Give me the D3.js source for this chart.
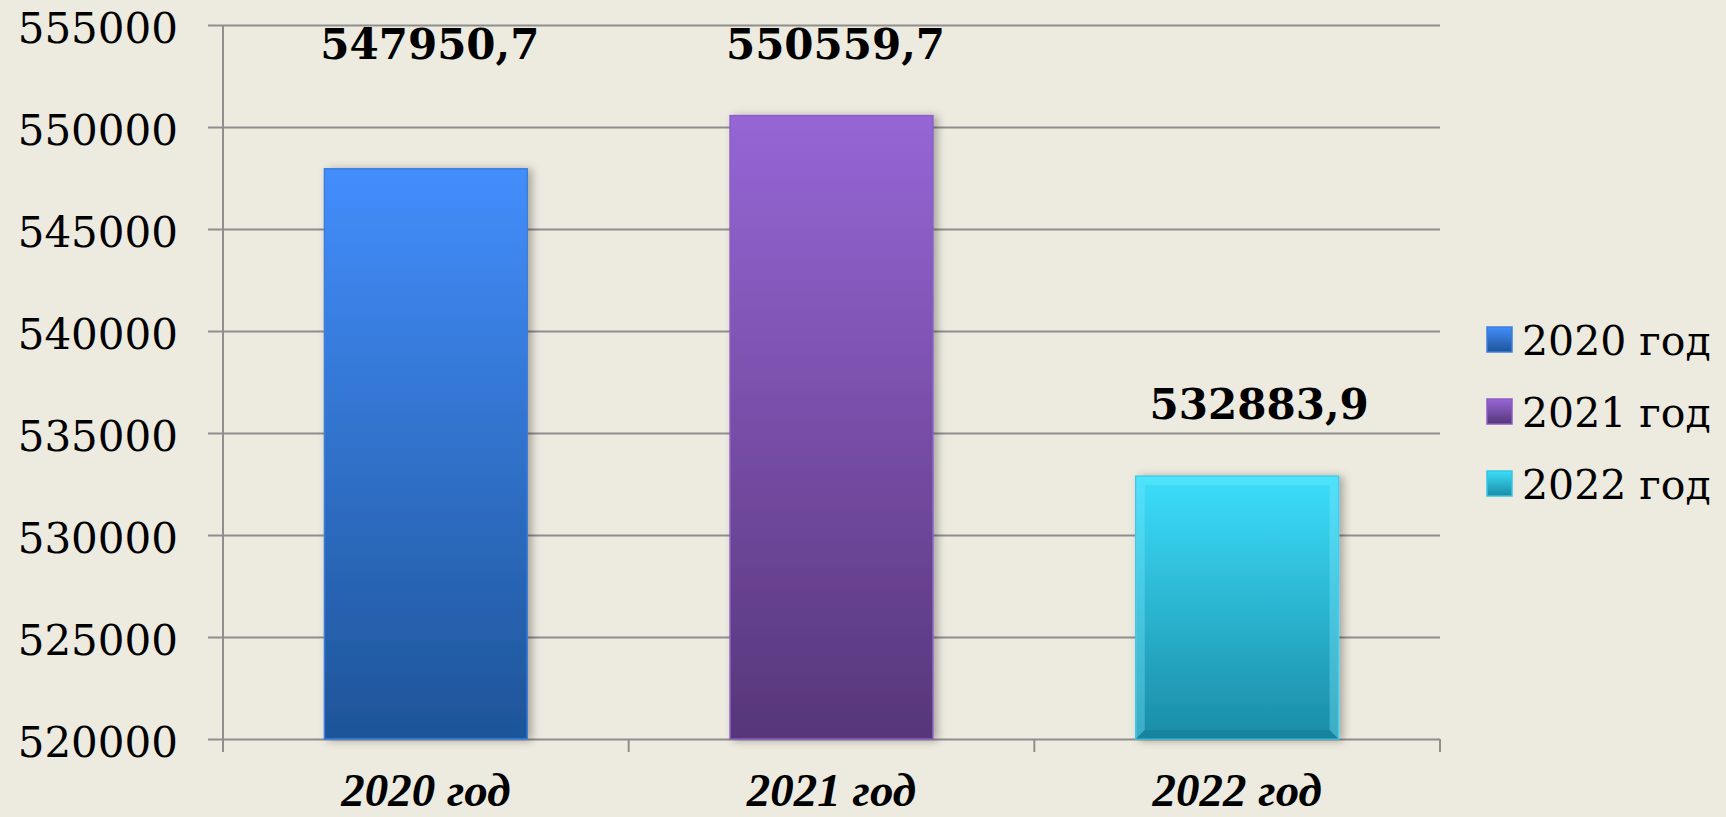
<!DOCTYPE html>
<html>
<head>
<meta charset="utf-8">
<script src="https://cdn.jsdelivr.net/npm/d3@7"></script>
<style>
  body { margin: 0; background: #EDEBE0; }
  svg { display: block; }
</style>
</head>
<body>
<div id="chart-area"></div>
<script>
// data
var categories = ["2020 год", "2021 год", "2022 год"];
var values = [547950.7, 550559.7, 532883.9];
var yTicks = [520000, 525000, 530000, 535000, 540000, 545000, 550000, 555000];

var margin = { left: 223, right: 286, top: 25, bottom: 78 };
var width = 1726 - margin.left - margin.right;
var height = 817 - margin.top - margin.bottom;

var svg = d3.select("#chart-area")
  .append("svg")
    .attr("width", 1726)
    .attr("height", 817);

var g = svg.append("g")
  .attr("transform", "translate(" + margin.left + ", " + margin.top + ")");

// Scales
var x = d3.scaleBand()
  .domain(categories)
  .range([0, width])
  .paddingInner(0.5)
  .paddingOuter(0.25);
var y = d3.scaleLinear()
  .domain([520000, 555000])
  .range([height, 0]);

// bar colours, top and bottom of gradient
var topColor = d3.scaleOrdinal(categories, ["#438EFC", "#9666D6", "#3CDEFB"]);
var bottomColor = d3.scaleOrdinal(categories, ["#1E5498", "#573679", "#1B8CA6"]);
var edgeColor = d3.scaleOrdinal(categories, ["#3B7FDE", "#8A5CC4", "#35C6E6"]);

var fmt = d3.formatLocale({ decimal: ",", thousands: "", grouping: [3] }).format(".1f");

var defs = svg.append("defs");
categories.forEach(function(c, i) {
  var grad = defs.append("linearGradient")
    .attr("id", "grad" + i)
    .attr("x1", 0).attr("y1", 0).attr("x2", 0).attr("y2", 1);
  grad.append("stop").attr("offset", "0%").attr("stop-color", topColor(c));
  grad.append("stop").attr("offset", "100%").attr("stop-color", bottomColor(c));
});
var shadow = defs.append("filter").attr("id", "shadow")
  .attr("x", "-10%").attr("y", "-10%").attr("width", "130%").attr("height", "120%");
shadow.append("feDropShadow")
  .attr("dx", 4).attr("dy", 1).attr("stdDeviation", 4)
  .attr("flood-color", "#000").attr("flood-opacity", 0.3);

// Y axis + gridlines
var yAxis = d3.axisLeft(y).tickValues(yTicks).tickFormat(d3.format("d"));
var yAxisGroup = g.append("g").attr("class", "y-axis").call(yAxis);
yAxisGroup.select(".domain").remove();
yAxisGroup.selectAll(".tick line")
  .attr("x1", -15).attr("x2", width)
  .attr("stroke", "#8E8E8E").attr("stroke-width", 2);
yAxisGroup.selectAll(".tick text")
  .attr("x", -45).attr("dy", 17)
  .attr("font-family", "DejaVu Serif").attr("font-size", "42px")
  .attr("fill", "#000");

// vertical axis line
g.append("line")
  .attr("x1", 0).attr("x2", 0)
  .attr("y1", 0).attr("y2", height + 13)
  .attr("stroke", "#8E8E8E").attr("stroke-width", 2);

// category boundary ticks
var bounds = categories.map(function(c) { return x(c) - x.step() * x.paddingOuter(); }).concat([width]);
g.selectAll(".xtick").data(bounds.slice(1))
  .enter().append("line")
    .attr("class", "xtick")
    .attr("x1", function(d) { return d; }).attr("x2", function(d) { return d; })
    .attr("y1", height).attr("y2", height + 13)
    .attr("stroke", "#8E8E8E").attr("stroke-width", 2);

// Bars
var bars = g.selectAll(".bar").data(values)
  .enter().append("rect")
    .attr("class", "bar")
    .attr("x", function(d, i) { return x(categories[i]); })
    .attr("y", function(d) { return y(d); })
    .attr("width", x.bandwidth())
    .attr("height", function(d) { return height - y(d); })
    .attr("fill", function(d, i) { return "url(#grad" + i + ")"; })
    .attr("stroke", function(d, i) { return edgeColor(categories[i]); })
    .attr("stroke-width", 1.5)
    .attr("filter", "url(#shadow)");

// bevel look on the 2022 bar
var bev = 9;
var b3x = x(categories[2]), b3y = y(values[2]), b3w = x.bandwidth(), b3h = height - y(values[2]);
var bevels = [
  { pts: [[0, 0], [b3w, 0], [b3w - bev, bev], [bev, bev]], fill: "#6FF0FF", op: 0.35 },
  { pts: [[0, 0], [bev, bev], [bev, b3h - bev], [0, b3h]], fill: "#7FE8FF", op: 0.35 },
  { pts: [[b3w, 0], [b3w, b3h], [b3w - bev, b3h - bev], [b3w - bev, bev]], fill: "#7FE8FF", op: 0.35 },
  { pts: [[0, b3h], [bev, b3h - bev], [b3w - bev, b3h - bev], [b3w, b3h]], fill: "#0E6E88", op: 0.3 }
];
g.append("g").attr("transform", "translate(" + b3x + "," + b3y + ")")
  .selectAll("polygon").data(bevels)
  .enter().append("polygon")
    .attr("points", function(d) { return d.pts.join(" "); })
    .attr("fill", function(d) { return d.fill; })
    .attr("opacity", function(d) { return d.op; });

// value labels (first two share the top row)
g.selectAll(".vlabel").data(values)
  .enter().append("text")
    .attr("class", "vlabel")
    .attr("x", function(d, i) { return x(categories[i]) + x.bandwidth() / 2 + (i === 2 ? 22 : 4); })
    .attr("y", function(d, i) { return (i === 0 ? y(values[1]) : y(d)) - 57; })
    .attr("text-anchor", "middle")
    .attr("font-family", "DejaVu Serif").attr("font-weight", "bold")
    .attr("font-size", "42px")
    .text(function(d) { return fmt(d); });

// X labels
var xAxis = d3.axisBottom(x).tickSize(0).tickPadding(0);
var xAxisGroup = g.append("g").attr("class", "x-axis")
  .attr("transform", "translate(0, " + height + ")")
  .call(xAxis);
xAxisGroup.select(".domain").remove();
xAxisGroup.selectAll(".tick text")
  .attr("y", 67).attr("dy", 0)
  .attr("font-family", "Liberation Serif").attr("font-weight", "bold")
  .attr("font-style", "italic").attr("font-size", "47px")
  .attr("fill", "#000");

// Legend
var legend = svg.append("g").attr("transform", "translate(1487, 340)");
var rows = legend.selectAll(".row").data(categories)
  .enter().append("g")
    .attr("class", "row")
    .attr("transform", function(d, i) { return "translate(0," + (i * 72) + ")"; });
rows.append("rect")
  .attr("x", 0).attr("y", -13)
  .attr("width", 25).attr("height", 25)
  .attr("fill", function(d, i) { return "url(#grad" + i + ")"; })
  .attr("stroke", function(d) { return edgeColor(d); })
  .attr("stroke-width", 1.5);
rows.append("text")
  .attr("x", 35).attr("y", 15)
  .attr("font-family", "DejaVu Serif").attr("font-size", "41px")
  .text(function(d) { return d; });
</script>
</body>
</html>
